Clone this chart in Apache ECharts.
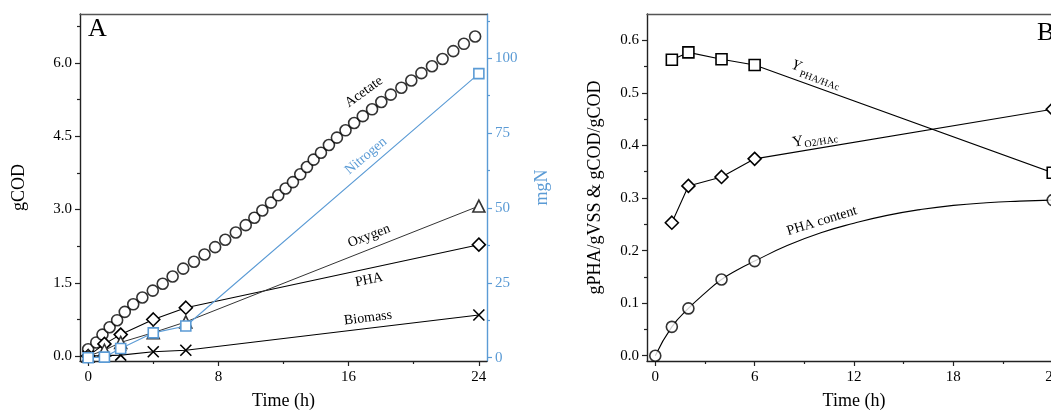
<!DOCTYPE html>
<html><head><meta charset="utf-8">
<script src="https://cdn.jsdelivr.net/npm/echarts@6/dist/echarts.min.js"></script>
<style>html,body{margin:0;padding:0;background:#fff}#c{width:1051px;height:410px}</style>
</head><body><div id="c"></div>
<script>
// ---------- Panel A data ----------
const acetateTime = [0,0.5,0.88,1.32,1.78,2.25,2.77,3.33,3.97,4.58,5.19,5.84,6.50,7.15,7.80,8.42,9.07,9.68,10.21,10.70,11.23,11.68,12.13,12.58,13.03,13.44,13.85,14.30,14.79,15.28,15.81,16.34,16.87,17.44,18.01,18.59,19.24,19.85,20.47,21.12,21.77,22.43,23.08,23.77];
const acetateCOD  = [0.14,0.28,0.44,0.59,0.735,0.905,1.06,1.20,1.34,1.48,1.63,1.79,1.93,2.08,2.23,2.38,2.53,2.68,2.83,2.98,3.14,3.29,3.43,3.56,3.72,3.87,4.02,4.16,4.32,4.47,4.62,4.77,4.91,5.05,5.20,5.35,5.49,5.64,5.79,5.93,6.08,6.24,6.39,6.54];
const sampleTimeA = [0,1,2,4,6,24];
const oxygenCOD   = [0,0.12,0.28,0.48,0.70,3.07];
const phaCOD      = [0,0.25,0.44,0.75,0.99,2.28];
const nitrogenMgN = [0,0.2,3.1,8.3,10.6,94.9];
const biomassTime = [0,2,4,6,24];
const biomassCOD  = [0,0.02,0.09,0.12,0.84];

// ---------- Panel B data ----------
const sampleTimeB = [0,1,2,4,6,24];
const phaContent  = [0,0.055,0.09,0.145,0.18,0.296];
const fitTime     = [0,1,2,3,4,5,6,8,10,12,14,16,18,20,22,24];
const fitContent  = [0,0.055,0.09,0.119,0.145,0.164,0.18,0.21,0.234,0.252,0.267,0.278,0.286,0.291,0.294,0.296];
const yieldTime   = [1,2,4,6,24];
const yPhaHac     = [0.563,0.577,0.564,0.553,0.348];
const yO2Hac      = [0.253,0.323,0.340,0.3745,0.469];

// ---------- tick values ----------
const ticksAX = [0,8,16,24],            minorAX = [4,12,20];
const ticksAY = [0,1.5,3,4.5,6],        minorAY = [0.75,2.25,3.75,5.25,6.75];
const ticksAN = [0,25,50,75,100],       minorAN = [12.5,37.5,62.5,87.5,112.5];
const ticksBX = [0,6,12,18,24],         minorBX = [3,9,15,21];
const ticksBY = [0,0.1,0.2,0.3,0.4,0.5,0.6], minorBY = [0.05,0.15,0.25,0.35,0.45,0.55];

const FF = '"Liberation Serif","Times New Roman",serif';
const BLUE = '#5b9bd5';
const AX = '#222';
const pairs = (xs, ys) => xs.map((x, i) => [x, ys[i]]);

function mainAxis(o) {
  return Object.assign({
    type: 'value', splitLine: {show: false},
    axisLine: {show: true, onZero: false, lineStyle: {color: o.color || AX, width: 1.4}},
    axisTick: {show: true, customValues: o.ticks, length: 5, lineStyle: {color: o.color || AX, width: 1.2}},
    axisLabel: {show: true, customValues: o.ticks, margin: o.margin || 8, fontFamily: FF, fontSize: 15,
      color: o.labelColor || '#000', formatter: o.fmt},
    nameTextStyle: {fontFamily: FF, fontSize: 18, color: o.labelColor || '#000'},
    nameLocation: 'middle'
  }, o.extra);
}
function minorAxis(o) {
  return Object.assign({
    type: 'value', splitLine: {show: false},
    axisLine: {show: false, onZero: false},
    axisTick: {show: true, customValues: o.ticks, length: 3, lineStyle: {color: o.color || AX, width: 1.2}},
    axisLabel: {show: false}
  }, o.extra);
}
function frameAxis(o) {
  return Object.assign({
    type: 'value', splitLine: {show: false},
    axisLine: {show: true, onZero: false, lineStyle: {color: '#555', width: 1.3}},
    axisTick: {show: false}, axisLabel: {show: false}
  }, o.extra);
}

const fmt1 = v => v.toFixed(1);
const fmt0 = v => String(v);

const sym = (s, size, border, opts) => Object.assign({
  symbol: s, symbolSize: size, showSymbol: true,
  itemStyle: {color: '#fff', borderColor: border, borderWidth: 1.6},
}, opts);

const XSYM = 'path://M0,0L10,10M10,0L0,10';

const option = {
  animation: false,
  backgroundColor: '#fff',
  grid: [
    {left: 80, top: 14, width: 407, height: 347, outerBoundsMode: 'none', containLabel: false},
    {left: 647, top: 14, width: 414, height: 347, outerBoundsMode: 'none', containLabel: false}
  ],
  xAxis: [
    mainAxis({ticks: ticksAX, fmt: fmt0, margin: 9, extra: {gridIndex: 0, min: -0.5, max: 24.5, position: 'bottom', name: 'Time (h)', nameGap: 31}}),
    minorAxis({ticks: minorAX, extra: {gridIndex: 0, min: -0.5, max: 24.5, position: 'bottom'}}),
    frameAxis({extra: {gridIndex: 0, min: -0.5, max: 24.5, position: 'top'}}),
    mainAxis({ticks: ticksBX, fmt: fmt0, margin: 9, extra: {gridIndex: 1, min: -0.5, max: 24.5, position: 'bottom', name: 'Time (h)', nameGap: 31}}),
    minorAxis({ticks: minorBX, extra: {gridIndex: 1, min: -0.5, max: 24.5, position: 'bottom'}}),
    frameAxis({extra: {gridIndex: 1, min: -0.5, max: 24.5, position: 'top'}})
  ],
  yAxis: [
    mainAxis({ticks: ticksAY, fmt: fmt1, margin: 8, extra: {gridIndex: 0, min: -0.1, max: 7.0, position: 'left', name: 'gCOD', nameGap: 52, nameRotate: 90}}),
    mainAxis({ticks: ticksAN, fmt: fmt0, margin: 8, color: BLUE, labelColor: BLUE, extra: {gridIndex: 0, min: -1.1, max: 114.8, position: 'right', name: 'mgN', nameGap: 46, nameRotate: 90}}),
    minorAxis({ticks: minorAY, extra: {gridIndex: 0, min: -0.1, max: 7.0, position: 'left'}}),
    minorAxis({ticks: minorAN, color: BLUE, extra: {gridIndex: 0, min: -1.1, max: 114.8, position: 'right'}}),
    mainAxis({ticks: ticksBY, fmt: fmt1, margin: 8, extra: {gridIndex: 1, min: -0.01, max: 0.65, position: 'left', name: 'gPHA/gVSS & gCOD/gCOD', nameGap: 43, nameRotate: 90}}),
    minorAxis({ticks: minorBY, extra: {gridIndex: 1, min: -0.01, max: 0.65, position: 'left'}})
  ],
  series: [
    // Panel A
    Object.assign({type: 'scatter', xAxisIndex: 0, yAxisIndex: 0, data: pairs(acetateTime, acetateCOD)},
      {symbol: 'circle', symbolSize: 11, itemStyle: {color: '#fff', borderColor: '#000', borderWidth: 1.6}, z: 3}),
    Object.assign({type: 'line', xAxisIndex: 0, yAxisIndex: 0, data: pairs(sampleTimeA, phaCOD),
      lineStyle: {color: '#000', width: 1.1}}, sym('diamond', 13, '#000', {z: 4})),
    Object.assign({type: 'line', xAxisIndex: 0, yAxisIndex: 0, data: pairs(sampleTimeA, oxygenCOD),
      lineStyle: {color: '#333', width: 1}}, sym('triangle', 12, '#333', {z: 5})),
    Object.assign({type: 'line', xAxisIndex: 0, yAxisIndex: 0, data: pairs(biomassTime, biomassCOD),
      lineStyle: {color: '#000', width: 1.1}},
      {symbol: XSYM, symbolSize: 11, symbolKeepAspect: true, itemStyle: {color: 'rgba(0,0,0,0)', borderColor: '#000', borderWidth: 1.6}, z: 6}),
    Object.assign({type: 'line', xAxisIndex: 0, yAxisIndex: 1, data: pairs(sampleTimeA, nitrogenMgN),
      lineStyle: {color: BLUE, width: 1.1}}, sym('rect', 10, BLUE, {z: 7})),
    // Panel B
    {type: 'line', xAxisIndex: 3, yAxisIndex: 4, data: pairs(fitTime, fitContent), smooth: true, showSymbol: false, symbol: 'none',
      lineStyle: {color: '#000', width: 1.1}, z: 2},
    Object.assign({type: 'scatter', xAxisIndex: 3, yAxisIndex: 4, data: pairs(sampleTimeB, phaContent)},
      {symbol: 'circle', symbolSize: 11, itemStyle: {color: '#fff', borderColor: '#000', borderWidth: 1.6}, z: 4}),
    Object.assign({type: 'line', xAxisIndex: 3, yAxisIndex: 4, data: pairs(yieldTime, yPhaHac),
      lineStyle: {color: '#000', width: 1.1}}, sym('rect', 11, '#000', {z: 4})),
    Object.assign({type: 'line', xAxisIndex: 3, yAxisIndex: 4, data: pairs(yieldTime, yO2Hac),
      lineStyle: {color: '#000', width: 1.1}}, sym('diamond', 13, '#000', {z: 4}))
  ],
  graphic: [
    {type: 'text', x: 88, y: 29, style: {text: 'A', fontFamily: FF, fontSize: 26, fill: '#000', align: 'left', verticalAlign: 'middle'}},
    {type: 'text', x: 1037, y: 33, style: {text: 'B', fontFamily: FF, fontSize: 26, fill: '#000', align: 'left', verticalAlign: 'middle'}},
    {type: 'text', x: 364, y: 92, rotation: 36 * Math.PI / 180, style: {text: 'Acetate', fontFamily: FF, fontSize: 14, fill: '#000', align: 'center', verticalAlign: 'middle'}},
    {type: 'text', x: 366, y: 156, rotation: 40 * Math.PI / 180, style: {text: 'Nitrogen', fontFamily: FF, fontSize: 14, fill: BLUE, align: 'center', verticalAlign: 'middle'}},
    {type: 'text', x: 369, y: 236, rotation: 21 * Math.PI / 180, style: {text: 'Oxygen', fontFamily: FF, fontSize: 14, fill: '#000', align: 'center', verticalAlign: 'middle'}},
    {type: 'text', x: 369, y: 280, rotation: 11 * Math.PI / 180, style: {text: 'PHA', fontFamily: FF, fontSize: 14, fill: '#000', align: 'center', verticalAlign: 'middle'}},
    {type: 'text', x: 368, y: 318, rotation: 7 * Math.PI / 180, style: {text: 'Biomass', fontFamily: FF, fontSize: 14, fill: '#000', align: 'center', verticalAlign: 'middle'}},
    {type: 'group', x: 796, y: 66, rotation: -20 * Math.PI / 180, children: [
      {type: 'text', x: 0, y: 0, style: {text: 'Y', fontFamily: FF, fontSize: 15, fontStyle: 'italic', fill: '#000', align: 'center', verticalAlign: 'middle'}},
      {type: 'text', x: 6, y: 6, style: {text: 'PHA/HAc', fontFamily: FF, fontSize: 10, fill: '#000', align: 'left', verticalAlign: 'middle'}}
    ]},
    {type: 'group', x: 798, y: 142, rotation: 9.5 * Math.PI / 180, children: [
      {type: 'text', x: 0, y: 0, style: {text: 'Y', fontFamily: FF, fontSize: 15, fill: '#000', align: 'center', verticalAlign: 'middle'}},
      {type: 'text', x: 6, y: 4, style: {text: 'O2/HAc', fontFamily: FF, fontSize: 10, fill: '#000', align: 'left', verticalAlign: 'middle'}}
    ]},
    {type: 'text', x: 822, y: 221, rotation: 17 * Math.PI / 180, style: {text: 'PHA content', fontFamily: FF, fontSize: 14, fill: '#000', align: 'center', verticalAlign: 'middle'}}
  ]
};

const chart = echarts.init(document.getElementById('c'), null, {renderer: 'canvas'});
chart.setOption(option);
</script>
</body></html>
